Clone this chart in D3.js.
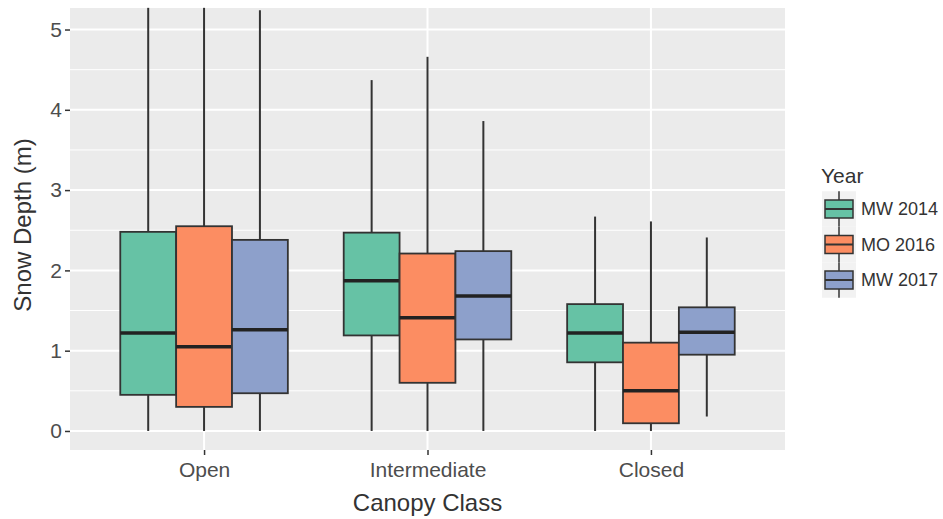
<!DOCTYPE html>
<html><head><meta charset="utf-8">
<script src="https://cdn.jsdelivr.net/npm/d3@7"></script>
<style>body{margin:0;background:#fff;}svg{display:block;font-family:"Liberation Sans",Arial,sans-serif;}</style>
</head><body>
<svg id="chart" width="943" height="519"></svg>
<script>
const categories = ["Open", "Intermediate", "Closed"];
const years = ["MW 2014", "MO 2016", "MW 2017"];
const colors = ["#66C2A5", "#FC8D62", "#8DA0CB"];
// per year, per category: [lowerWhisker, q1, median, q3, upperWhisker]
const mw2014 = [[0, 0.45, 1.22, 2.48, 5.27], [0, 1.19, 1.87, 2.47, 4.37], [0, 0.855, 1.22, 1.58, 2.67]];
const mo2016 = [[0, 0.30, 1.05, 2.55, 5.27], [0, 0.60, 1.41, 2.21, 4.66], [0, 0.096, 0.50, 1.10, 2.61]];
const mw2017 = [[0, 0.47, 1.26, 2.38, 5.24], [0, 1.14, 1.68, 2.24, 3.86], [0.18, 0.95, 1.23, 1.54, 2.41]];
const yTicks = [0, 1, 2, 3, 4, 5];
const yMinor = [0.5, 1.5, 2.5, 3.5, 4.5];
const series = [mw2014, mo2016, mw2017];

const svg = d3.select("#chart");
const L = 70, R = 785, T = 8, B = 450;
const x = d3.scalePoint().domain(categories).range([L, R]).padding(0.6);
const y = d3.scaleLinear().domain([-0.237, 5.268]).range([B, T]);
const step = x.step();
const bw = 0.75 * step / years.length;

svg.append("rect").attr("x", L).attr("y", T).attr("width", R - L).attr("height", B - T).attr("fill", "#EBEBEB");
const g = svg.append("g");
g.selectAll(".minor").data(yMinor).join("line")
  .attr("x1", L).attr("x2", R).attr("y1", d => y(d)).attr("y2", d => y(d))
  .attr("stroke", "#fff").attr("stroke-width", 1);
g.selectAll(".major").data(yTicks).join("line")
  .attr("x1", L).attr("x2", R).attr("y1", d => y(d)).attr("y2", d => y(d))
  .attr("stroke", "#fff").attr("stroke-width", 2);
g.selectAll(".vmajor").data(categories).join("line")
  .attr("x1", d => x(d)).attr("x2", d => x(d)).attr("y1", T).attr("y2", B)
  .attr("stroke", "#fff").attr("stroke-width", 2);

// boxes
series.forEach((s, si) => {
  const gg = svg.append("g");
  categories.forEach((c, ci) => {
    const [lo, q1, med, q3, hi] = s[ci];
    const cx = x(c) + (si - 1) * bw;
    gg.append("line").attr("x1", cx).attr("x2", cx).attr("y1", y(hi)).attr("y2", y(q3))
      .attr("stroke", "#333").attr("stroke-width", 2);
    gg.append("line").attr("x1", cx).attr("x2", cx).attr("y1", y(q1)).attr("y2", y(lo))
      .attr("stroke", "#333").attr("stroke-width", 2);
    gg.append("rect").attr("x", cx - bw / 2).attr("width", bw)
      .attr("y", y(q3)).attr("height", y(q1) - y(q3))
      .attr("fill", colors[si]).attr("stroke", "#333").attr("stroke-width", 1.8);
    gg.append("line").attr("x1", cx - bw / 2).attr("x2", cx + bw / 2).attr("y1", y(med)).attr("y2", y(med))
      .attr("stroke", "#222").attr("stroke-width", 3.5);
  });
});

// axes
const yAxis = svg.append("g").attr("transform", `translate(${L},0)`)
  .call(d3.axisLeft(y).tickValues(yTicks).tickSize(5).tickPadding(3).tickFormat(d3.format("d")));
yAxis.select(".domain").remove();
yAxis.selectAll("line").attr("stroke", "#333").attr("stroke-width", 1.5);
yAxis.selectAll("text").attr("fill", "#4D4D4D").attr("font-size", 21).attr("font-family", "Liberation Sans, Arial, sans-serif");

const xAxis = svg.append("g").attr("transform", `translate(0,${B})`)
  .call(d3.axisBottom(x).tickSize(5).tickPadding(7));
xAxis.select(".domain").remove();
xAxis.selectAll("line").attr("stroke", "#333").attr("stroke-width", 1.5);
xAxis.selectAll("text").attr("fill", "#4D4D4D").attr("font-size", 21).attr("font-family", "Liberation Sans, Arial, sans-serif");

svg.append("text").attr("x", (L + R) / 2).attr("y", 511).attr("text-anchor", "middle")
  .attr("font-size", 24).attr("fill", "#333").text("Canopy Class");
svg.append("text").attr("transform", `translate(31,${(T + B) / 2 - 4}) rotate(-90)`).attr("text-anchor", "middle")
  .attr("font-size", 24).attr("fill", "#333").text("Snow Depth (m)");

// legend
const lg = svg.append("g");
lg.append("text").attr("x", 821).attr("y", 183).attr("font-size", 21).attr("fill", "#333").text("Year");
const keyH = 35.5, keyW = 34;
years.forEach((yr, i) => {
  const cy = 209 + i * keyH;
  const k = lg.append("g");
  k.append("rect").attr("x", 822).attr("y", cy - keyH / 2).attr("width", keyW).attr("height", keyH).attr("fill", "#F2F2F2");
  k.append("line").attr("x1", 839).attr("x2", 839).attr("y1", cy - keyH / 2).attr("y2", cy + keyH / 2).attr("stroke", "#333").attr("stroke-width", 1.5);
  k.append("rect").attr("x", 825).attr("y", cy - 9).attr("width", 28).attr("height", 18)
    .attr("fill", colors[i]).attr("stroke", "#333").attr("stroke-width", 1.5);
  k.append("line").attr("x1", 825).attr("x2", 853).attr("y1", cy).attr("y2", cy).attr("stroke", "#333").attr("stroke-width", 2);
  lg.append("text").attr("x", 861).attr("y", cy + 6).attr("font-size", 18).attr("fill", "#333").text(yr);
});
</script>
</body></html>
